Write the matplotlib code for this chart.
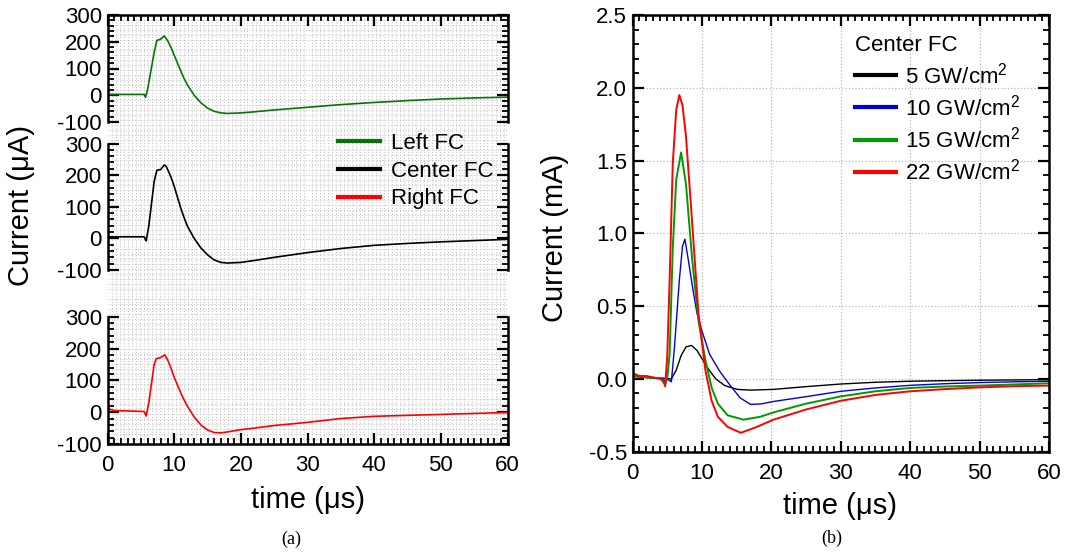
import matplotlib
matplotlib.use('Agg')
import matplotlib.pyplot as plt
from matplotlib.ticker import MultipleLocator

plt.rcParams['font.family'] = ['Liberation Sans', 'DejaVu Sans']
plt.rcParams['mathtext.fontset'] = 'custom'
plt.rcParams['mathtext.rm'] = 'Liberation Sans'
plt.rcParams['axes.unicode_minus'] = False

# (a) three Faraday cups, current in uA
t_left = [0, 5.5, 5.7, 6.0, 6.5, 7.0, 7.4, 8.0, 8.5, 9.0, 9.5, 10, 10.5, 11, 11.5, 12,
          13, 14, 15, 16, 17, 18, 20, 22, 25, 30, 35, 40, 45, 50, 55, 60]
i_left = [3, 3, -8, 20, 90, 160, 205, 210, 222, 205, 180, 150, 120, 90, 62, 38,
          0, -28, -48, -60, -66, -68, -66, -62, -55, -45, -35, -27, -20, -14, -10, -7]

t_center = [0, 5.5, 5.8, 6.2, 6.6, 7.0, 7.4, 8.0, 8.5, 8.8, 9.5, 10, 10.5, 11, 11.5, 12,
            13, 14, 15, 16, 17, 18, 20, 22, 25, 30, 35, 40, 45, 50, 55, 60]
i_center = [5, 5, -8, 40, 110, 180, 215, 218, 232, 228, 195, 165, 130, 95, 65, 38,
            0, -30, -52, -68, -76, -78, -76, -70, -60, -45, -32, -22, -16, -11, -7, -3]

t_right = [0, 1, 3, 5.5, 5.8, 6.2, 6.6, 7.0, 7.3, 8.0, 8.6, 9.0, 9.5, 10, 10.5, 11, 11.5, 12,
           13, 14, 15, 16, 17, 18, 20, 22, 25, 30, 35, 40, 45, 50, 55, 60]
i_right = [12, 5, 4, 2, -12, 30, 90, 150, 168, 172, 180, 165, 140, 110, 85, 60, 38, 18,
           -15, -40, -56, -64, -65, -62, -55, -50, -42, -32, -20, -13, -10, -7, -4, -1]

# (b) center FC at four intensities, current in mA
t_5 = [0, 2, 4, 5.6, 6.3, 7.0, 7.7, 8.5, 9.3, 10.0, 10.9, 12.0, 13.3, 15.1, 17.0, 20.3,
       25, 30, 35, 40, 45, 50, 55, 60]
i_5 = [0.02, 0.01, 0.005, 0.0, 0.06, 0.16, 0.22, 0.23, 0.195, 0.14, 0.07, 0.0, -0.046,
       -0.072, -0.077, -0.072, -0.053, -0.035, -0.023, -0.016, -0.012, -0.009, -0.007, -0.005]

t_10 = [0, 2, 4, 5.0, 5.6, 6.05, 6.75, 7.2, 7.55, 8.1, 8.75, 9.3, 10.0, 11.1, 12.6, 14.0,
        15.5, 17.0, 18.5, 20.3, 25, 30, 35, 40, 45, 50, 55, 60]
i_10 = [0.02, 0.01, 0.005, 0.0, -0.02, 0.22, 0.68, 0.91, 0.96, 0.8, 0.6, 0.45, 0.33, 0.17,
        0.05, -0.04, -0.13, -0.175, -0.172, -0.155, -0.122, -0.085, -0.062, -0.044, -0.033,
        -0.025, -0.02, -0.016]

t_15 = [0, 2, 4, 4.7, 5.0, 5.35, 5.8, 6.3, 7.0, 7.7, 8.6, 9.5, 10.5, 11.4, 12.3, 13.7,
        16.0, 18.4, 20.3, 25, 30, 35, 40, 45, 50, 55, 60]
i_15 = [0.02, 0.01, 0.005, -0.04, 0.0, 0.17, 0.9, 1.37, 1.556, 1.34, 0.82, 0.40, 0.13,
        -0.06, -0.17, -0.25, -0.28, -0.26, -0.23, -0.17, -0.12, -0.085, -0.062, -0.052,
        -0.046, -0.038, -0.03]

t_22 = [0, 1, 2, 3, 4, 4.5, 4.7, 5.0, 5.35, 5.8, 6.3, 6.75, 7.2, 7.7, 8.6, 9.5, 10.5, 11.4,
        12.3, 13.7, 15.6, 17.9, 20.3, 25, 30, 35, 40, 45, 50, 55, 60]
i_22 = [0.04, 0.02, 0.02, 0.01, 0.0, -0.01, -0.05, 0.15, 0.68, 1.48, 1.85, 1.95, 1.88,
        1.67, 1.07, 0.45, 0.06, -0.15, -0.26, -0.33, -0.37, -0.33, -0.28, -0.21, -0.15,
        -0.11, -0.085, -0.07, -0.058, -0.05, -0.046]

W, H = 1081, 554
fig = plt.figure(figsize=(W / 100, H / 100), dpi=100)


def box(x0, y0, x1, y1):
    # pixel box (top-left origin) -> figure fraction rect
    return [x0 / W, 1 - y1 / H, (x1 - x0) / W, (y1 - y0) / H]


def style(ax):
    ax.tick_params(which='both', direction='in', labelsize=16)
    ax.tick_params(axis='x', pad=8)
    ax.tick_params(axis='y', pad=4)
    ax.tick_params(which='major', length=8, width=1.6)
    ax.tick_params(which='minor', length=4, width=1.3)
    for s in ax.spines.values():
        s.set_linewidth(1.8)


# background grid for panel (a)
bg = fig.add_axes(box(107.5, 15, 507.5, 444))
bg.set_xlim(0, 60)
bg.set_ylim(0, 86)
bg.xaxis.set_minor_locator(MultipleLocator(0.6))
bg.yaxis.set_minor_locator(MultipleLocator(1))
bg.grid(which='minor', color='#c8c8c8', linestyle=':', linewidth=0.8)
bg.tick_params(which='both', length=0, labelbottom=False, labelleft=False)
for s in bg.spines.values():
    s.set_visible(False)

rects = [box(107.5, 15, 507.5, 122), box(107.5, 143.5, 507.5, 270), box(107.5, 316.7, 507.5, 444)]
series = [(t_left, i_left, '#0a720a'), (t_center, i_center, 'black'), (t_right, i_right, '#ff0000')]
axes_a = []
for k, (r, (tt, ii, c)) in enumerate(zip(rects, series)):
    ax = fig.add_axes(r)
    ax.patch.set_alpha(0)
    ax.plot(tt, ii, color=c, lw=1.2)
    ax.set_xlim(0, 60)
    ax.set_ylim(-100, 300)
    ax.xaxis.set_major_locator(MultipleLocator(10))
    ax.xaxis.set_minor_locator(MultipleLocator(1))
    ax.yaxis.set_major_locator(MultipleLocator(100))
    ax.yaxis.set_minor_locator(MultipleLocator(20))
    style(ax)
    ax.spines['top'].set_visible(k == 0)
    ax.spines['bottom'].set_visible(k == 2)
    ax.tick_params(which='both', left=True, right=True, top=(k == 0), bottom=(k == 2),
                   labelbottom=(k == 2))
    axes_a.append(ax)

leg_a = fig.legend([axes_a[0].lines[0], axes_a[1].lines[0], axes_a[2].lines[0]],
                   ['Left FC', 'Center FC', 'Right FC'],
                   loc='upper left', bbox_to_anchor=(318 / W, 1 - 113 / H),
                   frameon=False, fontsize=16, handlelength=1.9, handletextpad=0.5,
                   labelspacing=0.3)
for ln in leg_a.get_lines():
    ln.set_linewidth(3)

fig.text(21 / W, 1 - 206 / H, 'Current (μA)', rotation=90, ha='center', va='center', fontsize=21)
fig.text(308 / W, 1 - 500 / H, 'time (μs)', ha='center', va='center', fontsize=21)
fig.text(291 / W, 1 - 539 / H, '(a)', ha='center', va='center', fontsize=13,
         family=['Liberation Serif', 'DejaVu Serif'])

# panel (b)
axb = fig.add_axes(box(632.5, 15, 1049, 451.7))
axb.plot(t_5, i_5, color='black', lw=1.0, label='5 GW/cm$^2$')
axb.plot(t_10, i_10, color='#0000e0', lw=1.0, label='10 GW/cm$^2$')
axb.plot(t_15, i_15, color='#009a00', lw=1.4, label='15 GW/cm$^2$')
axb.plot(t_22, i_22, color='#ff0000', lw=1.4, label='22 GW/cm$^2$')
axb.set_xlim(0, 60)
axb.set_ylim(-0.5, 2.5)
axb.xaxis.set_major_locator(MultipleLocator(10))
axb.xaxis.set_minor_locator(MultipleLocator(1))
axb.yaxis.set_major_locator(MultipleLocator(0.5))
axb.yaxis.set_minor_locator(MultipleLocator(0.1))
axb.grid(which='major', color='#b8b8b8', linestyle=':', linewidth=0.9)
style(axb)
axb.tick_params(which='both', top=True, right=True)
leg_b = axb.legend(title='Center FC', loc='upper left', bbox_to_anchor=(0.487, 1.0),
                   frameon=False, fontsize=16, title_fontsize=16, alignment='left',
                   handlelength=1.85, handletextpad=0.4, labelspacing=0.28)
for ln in leg_b.get_lines():
    ln.set_linewidth(3)

fig.text(555 / W, 1 - 238 / H, 'Current (mA)', rotation=90, ha='center', va='center', fontsize=21)
fig.text(840 / W, 1 - 506 / H, 'time (μs)', ha='center', va='center', fontsize=21)
fig.text(832 / W, 1 - 538 / H, '(b)', ha='center', va='center', fontsize=13,
         family=['Liberation Serif', 'DejaVu Serif'])

fig.savefig('out.png', dpi=100)
